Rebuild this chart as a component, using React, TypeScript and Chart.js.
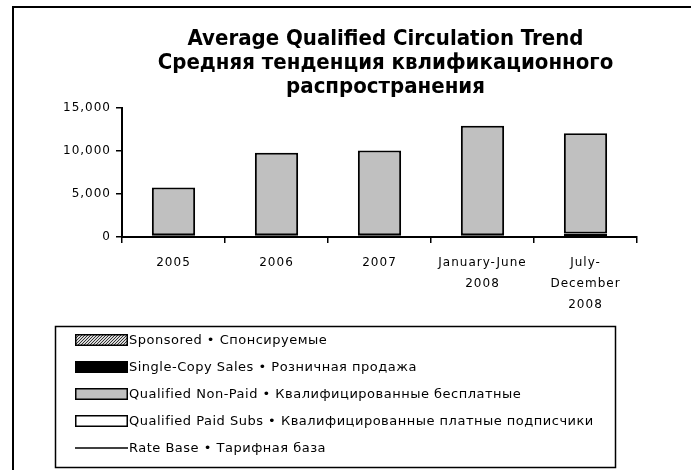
import React, { useEffect, useRef } from "react";
import { Chart, registerables } from "chart.js";

Chart.register(...registerables);

const CATEGORIES: string[][] = [
  ["2005"],
  ["2006"],
  ["2007"],
  ["January-June", "2008"],
  ["July-", "December", "2008"],
];
const SPONSORED = [0, 0, 0, 0, 0];
const SINGLE_COPY = [200, 200, 200, 200, 0];
const NON_PAID = [5550, 9600, 9850, 12750, 11650];
const PAID_SUBS = [0, 0, 0, 0, 400];
const RATE_BASE: (number | null)[] = [null, null, null, null, null];
const Y_TICKS = [0, 5000, 10000, 15000];

const TITLE_LINES = [
  "Average Qualified Circulation Trend",
  "Средняя тенденция квлификационного",
  "распространения",
];

const LABEL_SPONSORED = "Sponsored • Спонсируемые";
const LABEL_SINGLE = "Single-Copy Sales • Розничная продажа";
const LABEL_NONPAID = "Qualified Non-Paid • Квалифицированные бесплатные";
const LABEL_PAID = "Qualified Paid Subs • Квалифицированные платные подписчики";
const LABEL_RATE = "Rate Base • Тарифная база";
const LEGEND_ORDER = [LABEL_SPONSORED, LABEL_SINGLE, LABEL_NONPAID, LABEL_PAID, LABEL_RATE];

const GREY = "#c0c0c0";

function makeHatch(): CanvasPattern | string {
  const c = document.createElement("canvas");
  c.width = 3;
  c.height = 3;
  const g = c.getContext("2d");
  if (!g) return "#999";
  g.fillStyle = "#d8d8d8";
  g.fillRect(0, 0, 3, 3);
  g.fillStyle = "#333";
  g.fillRect(2, 0, 1, 1);
  g.fillRect(1, 1, 1, 1);
  g.fillRect(0, 2, 1, 1);
  const p = g.createPattern(c, "repeat");
  return p || "#999";
}

const spacingPlugin = {
  id: "spacing",
  beforeDraw(chart: any) {
    (chart.ctx as any).letterSpacing = "1px";
  },
};

const framePlugin = {
  id: "frame",
  afterDraw(chart: any) {
    const ctx = chart.ctx;
    ctx.save();
    ctx.strokeStyle = "#000";
    ctx.lineWidth = 2;
    ctx.strokeRect(13, 7, chart.width + 20, chart.height + 20);
    ctx.restore();
  },
};

const titlePlugin = {
  id: "customTitle",
  afterDraw(chart: any) {
    const ctx = chart.ctx;
    const ca = chart.chartArea;
    const cx = (ca.left + ca.right) / 2 + 6;
    ctx.save();
    (ctx as any).letterSpacing = "0px";
    ctx.fillStyle = "#000";
    ctx.font = 'bold 22px "DejaVu Sans Condensed", "Liberation Sans Narrow", sans-serif';
    ctx.textAlign = "center";
    ctx.textBaseline = "alphabetic";
    TITLE_LINES.forEach((t, i) => {
      ctx.fillText(t, cx, 45 + i * 24);
    });
    ctx.restore();
  },
};

const legendPlugin = {
  id: "customLegend",
  afterDraw(chart: any) {
    const ctx = chart.ctx;
    ctx.save();
    ctx.strokeStyle = "#000";
    ctx.lineWidth = 1.5;
    ctx.strokeRect(55.5, 326.5, 560, 141);
    (ctx as any).letterSpacing = "0.5px";
    ctx.font = '13px "DejaVu Sans", sans-serif';
    ctx.textBaseline = "middle";
    ctx.textAlign = "left";
    LEGEND_ORDER.forEach((label, i) => {
      const ds = chart.data.datasets.find((d: any) => d.label === label);
      if (!ds) return;
      const y = 340 + i * 27;
      const x0 = 75;
      const w = 53;
      if (ds.type === "line") {
        ctx.strokeStyle = "#000";
        ctx.lineWidth = 1.5;
        ctx.beginPath();
        ctx.moveTo(x0, y);
        ctx.lineTo(x0 + w, y);
        ctx.stroke();
      } else {
        ctx.fillStyle = ds.backgroundColor;
        ctx.fillRect(x0, y - 6, w, 12);
        ctx.strokeStyle = "#000";
        ctx.lineWidth = 1.5;
        ctx.strokeRect(x0 + 0.75, y - 5.25, w - 1.5, 10.5);
      }
      ctx.fillStyle = "#000";
      ctx.fillText(label, x0 + w + 1, y + 1);
    });
    ctx.restore();
  },
};

export default function App() {
  const ref = useRef<HTMLCanvasElement | null>(null);

  useEffect(() => {
    if (!ref.current) return;
    const hatch = makeHatch();
    const bw = (ctx: any) => {
      const v = ctx.raw;
      return v ? 2 : 0;
    };
    const chart = new Chart(ref.current, {
      type: "bar",
      data: {
        labels: CATEGORIES as any,
        datasets: [
          {
            type: "bar",
            label: LABEL_PAID,
            data: PAID_SUBS,
            backgroundColor: "#ffffff",
            borderColor: "#000",
            borderWidth: bw as any,
            borderSkipped: false,
          },
          {
            type: "bar",
            label: LABEL_SINGLE,
            data: SINGLE_COPY,
            backgroundColor: "#000000",
            borderColor: "#000",
            borderWidth: bw as any,
            borderSkipped: false,
          },
          {
            type: "bar",
            label: LABEL_NONPAID,
            data: NON_PAID,
            backgroundColor: GREY,
            borderColor: "#000",
            borderWidth: bw as any,
            borderSkipped: false,
          },
          {
            type: "bar",
            label: LABEL_SPONSORED,
            data: SPONSORED,
            backgroundColor: hatch as any,
            borderColor: "#000",
            borderWidth: bw as any,
            borderSkipped: false,
          },
          {
            type: "line",
            label: LABEL_RATE,
            data: RATE_BASE,
            borderColor: "#000",
            borderWidth: 1.5,
            pointRadius: 0,
            stack: "rate",
          } as any,
        ],
      },
      options: {
        responsive: false,
        animation: false,
        layout: { padding: { left: 0, right: 54, top: 108, bottom: 143 } },
        datasets: {
          bar: { categoryPercentage: 1, barPercentage: 0.42 },
        },
        plugins: {
          legend: { display: false },
          title: { display: false },
          tooltip: { enabled: false },
        },
        scales: {
          x: {
            stacked: true,
            grid: {
              display: true,
              offset: true,
              drawOnChartArea: false,
              drawTicks: true,
              tickLength: 6,
              color: "#000",
              lineWidth: 1.5,
            },
            border: { display: true, color: "#000", width: 2 },
            ticks: {
              color: "#000",
              padding: 9,
              maxRotation: 0,
              autoSkip: false,
              font: { family: '"DejaVu Sans", sans-serif', size: 12, lineHeight: 1.75 },
            },
            afterFit(scale: any) {
              scale.height = 90;
            },
          },
          y: {
            stacked: true,
            min: 0,
            max: 15000,
            grid: {
              display: true,
              drawOnChartArea: false,
              drawTicks: true,
              tickLength: 6,
              color: "#000",
              lineWidth: 1.5,
            },
            border: { display: true, color: "#000", width: 2 },
            ticks: {
              color: "#000",
              padding: 5,
              font: { family: '"DejaVu Sans", sans-serif', size: 12 },
            },
            afterBuildTicks(scale: any) {
              scale.ticks = Y_TICKS.map((v) => ({ value: v }));
            },
            afterFit(scale: any) {
              scale.width = 122;
            },
          },
        },
      },
      plugins: [spacingPlugin, framePlugin, titlePlugin, legendPlugin],
    });
    return () => chart.destroy();
  }, []);

  return (
    <div style={{ position: "fixed", left: 0, top: 0, width: 691, height: 470, background: "#fff" }}>
      <canvas ref={ref} width={691} height={470} style={{ width: 691, height: 470, display: "block" }} />
    </div>
  );
}
